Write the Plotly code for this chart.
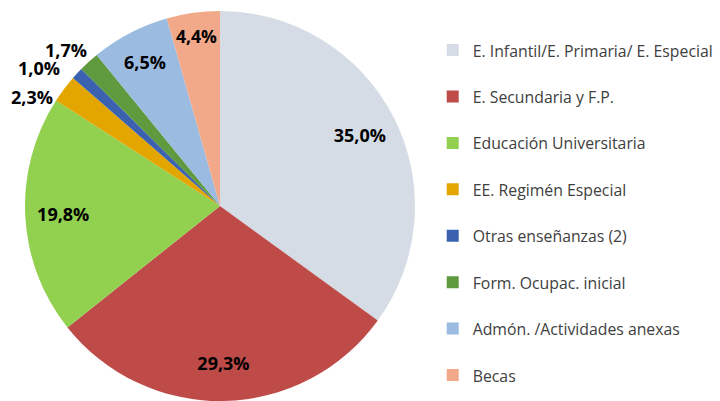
import math
import plotly.graph_objects as go

categories = [
    "E. Infantil/E. Primaria/ E. Especial",
    "E. Secundaria y F.P.",
    "Educación Universitaria",
    "EE. Regimén Especial",
    "Otras enseñanzas (2)",
    "Form. Ocupac. inicial",
    "Admón. /Actividades anexas",
    "Becas",
]
values = [35.0, 29.3, 19.8, 2.3, 1.0, 1.7, 6.5, 4.4]
colors = ["#D5DCE6", "#BE4B48", "#92D050", "#E3A600", "#3A62AE", "#5F9A3E", "#9BBBE0", "#F2A98A"]
inside_label = [True, True, True, False, False, False, True, True]
# small outside labels: nudges (px) applied after radial placement
outside_nudge = {3: (-3, -13), 4: (-9, 0), 5: (5, 6)}

W, H = 720, 401
TOP = 11
CX, CY, R = 220.0, TOP + (H - TOP) / 2.0, (H - TOP) / 2.0

legend_labels = [" <br><span style='font-size:15.8px'>" + c + "</span>" for c in categories]

fig = go.Figure()
# main pie (slices + legend)
fig.add_trace(
    go.Pie(
        labels=legend_labels,
        values=values,
        sort=False,
        direction="clockwise",
        rotation=0,
        marker=dict(colors=colors, line=dict(width=0)),
        textinfo="none",
        hovertemplate="%{label}: %{percent:.1%}<extra></extra>",
        domain=dict(x=[(CX - R) / W, (CX + R) / W], y=[0, 1]),
    )
)
# transparent ring to place inside labels at ~0.8 radius
fig.add_trace(
    go.Pie(
        labels=categories,
        values=values,
        sort=False,
        direction="clockwise",
        rotation=0,
        hole=0.61,
        marker=dict(colors=["rgba(0,0,0,0)"] * len(values), line=dict(width=0)),
        texttemplate="%{percent:.1%}",
        textposition=["inside" if f else "none" for f in inside_label],
        insidetextorientation="horizontal",
        textfont=dict(family="Open Sans", size=18, color="#000000", weight="bold"),
        hoverinfo="skip",
        showlegend=False,
        domain=dict(x=[(CX - R) / W, (CX + R) / W], y=[0, 1]),
    )
)

# outside labels for the thin slices, placed from the data angles
total = sum(values)
annotations = []
cum = 0.0
for i, v in enumerate(values):
    mid = (cum + v / 2.0) / total * 2 * math.pi
    cum += v
    if inside_label[i]:
        continue
    k = 1.04
    px = CX + k * R * math.sin(mid)
    py = CY - k * R * math.cos(mid)
    dx, dy = outside_nudge.get(i, (0, 0))
    pct = f"{v / total * 100:.1f}".replace(".", ",") + "%"
    annotations.append(
        dict(
            x=px / W,
            y=(H - py) / (H - TOP),
            xref="paper",
            yref="paper",
            text=pct,
            showarrow=False,
            xanchor="right",
            yanchor="middle",
            xshift=dx,
            yshift=dy,
            font=dict(family="Open Sans", size=18, color="#000000", weight="bold"),
        )
    )

fig.update_layout(
    width=W,
    height=H,
    margin=dict(l=0, r=0, t=TOP, b=0),
    paper_bgcolor="white",
    plot_bgcolor="white",
    separators=",.",
    font=dict(family="Open Sans", size=15, color="#404040"),
    annotations=annotations,
    legend=dict(
        x=0.601,
        y=1.0,
        xanchor="left",
        yanchor="top",
        valign="bottom",
        font=dict(family="Open Sans", size=16.7, color="#404040"),
    ),
    showlegend=True,
)

fig.write_html(
    "out.html",
    config={"displayModeBar": False},
    post_script="document.body.style.margin='0';document.body.style.overflow='hidden';",
)
